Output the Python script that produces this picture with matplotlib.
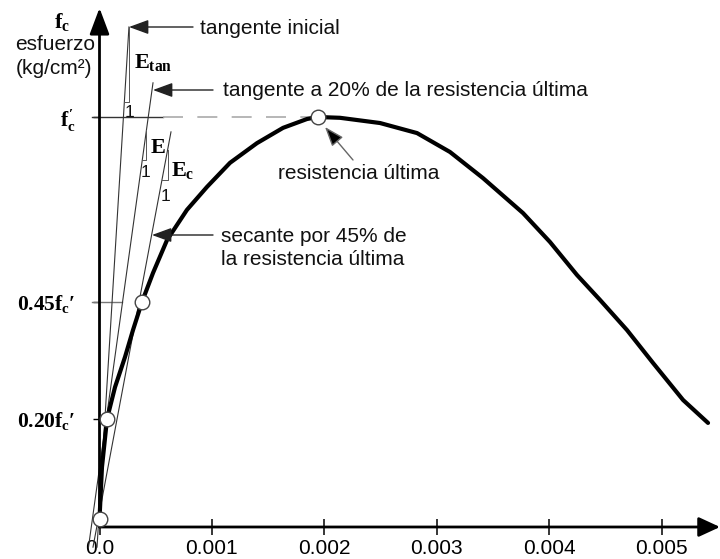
import numpy as np
import matplotlib.pyplot as plt

plt.rcParams['font.family'] = ['Liberation Sans', 'DejaVu Sans']
plt.rcParams['mathtext.fontset'] = 'custom'
plt.rcParams['mathtext.rm'] = 'Liberation Serif:bold'
plt.rcParams['mathtext.it'] = 'Liberation Serif:bold'
plt.rcParams['mathtext.bf'] = 'Liberation Serif:bold'

# curva esfuerzo-deformacion: deformacion en 1e-3, esfuerzo como fraccion de f'c
strain = [0.0, 0.022, 0.067, 0.138, 0.227, 0.298, 0.378, 0.476, 0.601, 0.778,
          0.956, 1.161, 1.401, 1.633, 1.846, 1.944, 2.140, 2.496, 2.825, 3.118,
          3.412, 3.768, 4.008, 4.248, 4.453, 4.693, 4.925, 5.192, 5.414]
stress = [0.0, 0.129, 0.249, 0.328, 0.403, 0.470, 0.540, 0.612, 0.694, 0.769,
          0.826, 0.886, 0.935, 0.973, 0.995, 1.0, 0.998, 0.985, 0.960, 0.913,
          0.848, 0.761, 0.689, 0.607, 0.545, 0.470, 0.388, 0.296, 0.239]

# puntos marcados (origen, 20%, 45%, resistencia ultima)
mark_strain = [0.0, 0.067, 0.378, 1.944]
mark_stress = [0.0, 0.249, 0.540, 1.0]

# rectas: tangente inicial, tangente al 20%, secante al 45%
init_x, init_y = [-0.022, 0.262], [-0.070, 1.224]
tan20_x, tan20_y = [-0.098, 0.476], [-0.070, 1.085]
sec_x, sec_y = [-0.058, 0.636], [-0.070, 0.963]

xticks = [0, 1, 2, 3, 4, 5]
xtick_labels = ['0.0', '0.001', '0.002', '0.003', '0.004', '0.005']
yticks = [0.249, 0.540, 1.0]
ytick_labels = [r"$0.20f_c$′", r"$0.45f_c$′", r"$f_c'$"]


def P(xp, yp):
    # posicion en pixeles de la figura -> coordenadas de datos
    return ((xp - 99.5) / 112.4, (519 - yp) / 402)


def x_on(lx, ly, y):
    return lx[0] + (y - ly[0]) * (lx[1] - lx[0]) / (ly[1] - ly[0])


fig = plt.figure(figsize=(7.2, 5.59), dpi=100)
ax = fig.add_axes([0, 0, 1, 1])
ax.set_xlim(P(0, 0)[0], P(720, 0)[0])
ax.set_ylim(P(0, 559)[1], P(0, 0)[1])
y_axis = P(0, 527)[1]

for s in ax.spines.values():
    s.set_visible(False)
ax.spines['bottom'].set_position(('data', y_axis))
ax.spines['left'].set_position(('data', 0))
ax.set_xticks(xticks, xtick_labels)
ax.set_yticks(yticks, ytick_labels)
ax.tick_params(axis='x', direction='inout', length=11.5, width=1.1, pad=3,
               labelsize=15, colors='k')
ax.tick_params(axis='y', direction='out', length=5.4, width=1, pad=12,
               labelsize=15.5, colors='k')
for lbl in ax.get_yticklabels():
    lbl.set_fontfamily(['Liberation Serif', 'DejaVu Serif'])
    lbl.set_fontweight('bold')

# ejes con flechas
ax.annotate('', xy=P(99.5, 8), xytext=P(99.5, 527),
            arrowprops=dict(arrowstyle='-|>,head_length=0.8,head_width=0.3', lw=2,
                            color='k', mutation_scale=20, shrinkA=0, shrinkB=0))
ax.annotate('', xy=P(720, 527), xytext=P(99.5, 527),
            arrowprops=dict(arrowstyle='-|>,head_length=0.65,head_width=0.3', lw=2,
                            color='k', mutation_scale=20, shrinkA=0, shrinkB=0))

# niveles de referencia
ax.plot([P(92, 0)[0], P(163, 0)[0]], [1.0, 1.0], color='#333', lw=1)
ax.plot([P(163, 0)[0], mark_strain[3]], [1.0, 1.0], color='#aaa', lw=1.2,
        ls=(0, (12, 8.6)))
ax.plot([P(92, 0)[0], P(122, 0)[0]], [0.540, 0.540], color='#777', lw=1)

# rectas y triangulos de pendiente
thin = dict(color='#333', lw=0.8)
for lx, ly, y_top, y_bot in [(init_x, init_y, 1.224, P(0, 102)[1]),
                             (tan20_x, tan20_y, P(0, 130)[1], P(0, 160)[1]),
                             (sec_x, sec_y, P(0, 150)[1], P(0, 180)[1])]:
    ax.plot(lx, ly, **thin)
    xt = x_on(lx, ly, y_top)
    ax.plot([xt, xt, x_on(lx, ly, y_bot)], [y_top, y_bot, y_bot], color='#555', lw=0.7)

# curva
ax.plot(strain, stress, color='k', lw=3, solid_capstyle='round',
        solid_joinstyle='round', zorder=3)
ax.plot(mark_strain, mark_stress, 'o', ms=10.5, mfc='white', mec='#444', mew=1,
        zorder=4)

# textos
txt = dict(fontsize=15, color='#111')
arw = dict(arrowstyle='-|>,head_length=0.6,head_width=0.22', color='#222', lw=1,
           mutation_scale=20, shrinkA=0, shrinkB=0)
ax.annotate('', xy=P(129, 27), xytext=P(193, 27), arrowprops=arw)
ax.text(*P(200, 28), 'tangente inicial', ha='left', va='center', **txt)
ax.annotate('', xy=P(153, 90), xytext=P(213, 90), arrowprops=arw)
ax.text(*P(223, 90), 'tangente a 20% de la resistencia última', ha='left',
        va='center', **txt)
ax.annotate('', xy=P(325, 127), xytext=P(353, 160),
            arrowprops=dict(arw, color=None, ec='#666', fc='k'))
ax.text(*P(278, 173), 'resistencia última', ha='left', va='center', **txt)
ax.annotate('', xy=P(152, 235), xytext=P(213, 235), arrowprops=arw)
ax.text(*P(221, 248), 'secante por 45% de\nla resistencia última', ha='left',
        va='center', linespacing=1.25, **txt)

ax.text(*P(134, 62), r'$E_{tan}$', ha='left', va='center', fontsize=16)
ax.text(*P(150, 147), r'$E$', ha='left', va='center', fontsize=16)
ax.text(*P(171, 170), r'$E_c$', ha='left', va='center', fontsize=16)
ax.text(*P(130, 112), '1', ha='center', va='center', fontsize=12.5, color='#111')
ax.text(*P(145, 172), '1', ha='center', va='center', fontsize=12.5, color='#111')
ax.text(*P(166, 196), '1', ha='center', va='center', fontsize=12.5, color='#111')

ax.text(*P(54, 22), r'$f_c$', ha='left', va='center', fontsize=16)
ax.text(*P(55, 45), 'esfuerzo', ha='center', va='center', **txt)
ax.text(*P(54, 68), '(kg/cm²)', ha='center', va='center', **txt)

fig.savefig('out.png', dpi=100)
